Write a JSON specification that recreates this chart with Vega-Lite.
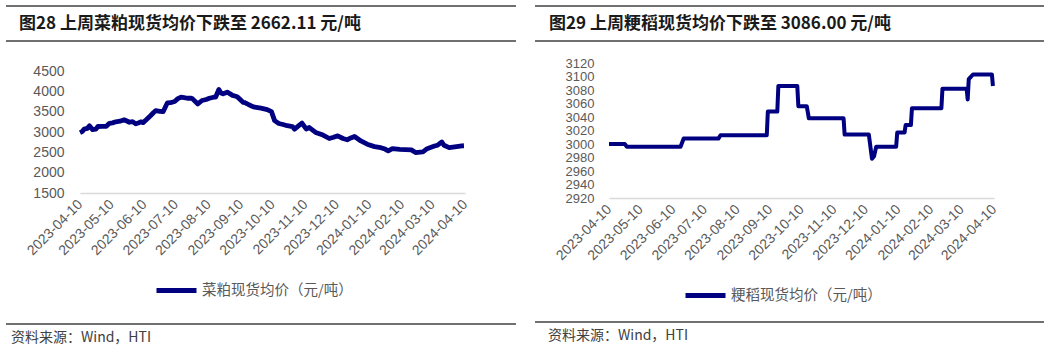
{
  "$schema": "https://vega.github.io/schema/vega-lite/v6.json",
  "padding": {"left": 5, "top": 5, "right": 0, "bottom": 0},
  "background": "white",
  "config": {
    "view": {"stroke": null},
    "font": "Noto Sans CJK SC",
    "axis": {"grid": false, "ticks": false, "labelColor": "#595959", "labelFont": "Liberation Sans", "labelFontSize": 14, "domainColor": "#d9d9d9", "domainWidth": 1.5, "title": null},
    "legend": {"orient": "bottom", "title": null, "symbolType": "stroke", "symbolSize": 1600, "symbolStrokeWidth": 5, "labelFontSize": 14.5, "labelColor": "#595959", "labelFont": "Noto Sans CJK SC", "offset": 10, "labelOffset": 3, "labelLimit": 300,
               "layout": {"bottom": {"anchor": "middle"}}}
  },
  "spacing": 17,
  "resolve": {"scale": {"color": "independent"}, "legend": {"color": "independent"}},
  "hconcat": [
    {
      "spacing": 22,
      "resolve": {"scale": {"color": "independent"}, "legend": {"color": "independent"}},
      "vconcat": [
        {
          "width": 510, "height": 35,
          "data": {"values": [{"title": "图28 上周菜粕现货均价下跌至 2662.11 元/吨"}]},
          "layer": [
            {"mark": {"type": "rule", "color": "#404040", "strokeWidth": 1.5}, "encoding": {"y": {"datum": 1, "type": "quantitative", "scale": {"domain": [0, 1]}, "axis": null}}},
            {"mark": {"type": "rule", "color": "#404040", "strokeWidth": 1.5}, "encoding": {"y": {"datum": 0, "type": "quantitative", "axis": null}}},
            {"mark": {"type": "text", "align": "left", "baseline": "middle", "fontSize": 17, "fontWeight": "bold", "color": "#1a1a1a", "dx": 13},
             "encoding": {"text": {"field": "title"}, "x": {"datum": 0, "type": "quantitative", "scale": {"domain": [0, 1]}, "axis": null}, "y": {"datum": 0.5, "type": "quantitative", "axis": null}}}
          ]
        },
        {
          "width": 495, "height": 122,
          "data": {"values": [
            {"date": "2023/04/10", "price": 2985}, {"date": "2023/04/12", "price": 3010}, {"date": "2023/04/14", "price": 3070}, {"date": "2023/04/17", "price": 3090},
            {"date": "2023/04/19", "price": 3150}, {"date": "2023/04/22", "price": 3060}, {"date": "2023/04/25", "price": 3070}, {"date": "2023/04/27", "price": 3135},
            {"date": "2023/05/01", "price": 3140}, {"date": "2023/05/05", "price": 3140}, {"date": "2023/05/08", "price": 3215}, {"date": "2023/05/11", "price": 3225},
            {"date": "2023/05/14", "price": 3250}, {"date": "2023/05/18", "price": 3265}, {"date": "2023/05/22", "price": 3300}, {"date": "2023/05/25", "price": 3265},
            {"date": "2023/05/27", "price": 3240}, {"date": "2023/05/30", "price": 3255}, {"date": "2023/06/02", "price": 3200}, {"date": "2023/06/05", "price": 3230},
            {"date": "2023/06/07", "price": 3250}, {"date": "2023/06/09", "price": 3230}, {"date": "2023/06/12", "price": 3300}, {"date": "2023/06/16", "price": 3400},
            {"date": "2023/06/19", "price": 3480}, {"date": "2023/06/21", "price": 3525}, {"date": "2023/06/25", "price": 3510}, {"date": "2023/06/28", "price": 3500},
            {"date": "2023/07/02", "price": 3715}, {"date": "2023/07/05", "price": 3720}, {"date": "2023/07/09", "price": 3750}, {"date": "2023/07/12", "price": 3820},
            {"date": "2023/07/15", "price": 3855}, {"date": "2023/07/18", "price": 3845}, {"date": "2023/07/21", "price": 3830}, {"date": "2023/07/24", "price": 3835},
            {"date": "2023/07/26", "price": 3815}, {"date": "2023/07/31", "price": 3690}, {"date": "2023/08/04", "price": 3775}, {"date": "2023/08/08", "price": 3800},
            {"date": "2023/08/11", "price": 3830}, {"date": "2023/08/15", "price": 3855}, {"date": "2023/08/17", "price": 3860}, {"date": "2023/08/20", "price": 4045},
            {"date": "2023/08/22", "price": 3960}, {"date": "2023/08/24", "price": 3940}, {"date": "2023/08/28", "price": 3980}, {"date": "2023/09/02", "price": 3900},
            {"date": "2023/09/05", "price": 3880}, {"date": "2023/09/07", "price": 3855}, {"date": "2023/09/12", "price": 3730}, {"date": "2023/09/14", "price": 3720},
            {"date": "2023/09/16", "price": 3690}, {"date": "2023/09/20", "price": 3640}, {"date": "2023/09/23", "price": 3610}, {"date": "2023/09/29", "price": 3585},
            {"date": "2023/10/05", "price": 3550}, {"date": "2023/10/09", "price": 3500}, {"date": "2023/10/12", "price": 3280}, {"date": "2023/10/16", "price": 3210},
            {"date": "2023/10/20", "price": 3185}, {"date": "2023/10/24", "price": 3155}, {"date": "2023/10/29", "price": 3135}, {"date": "2023/10/31", "price": 3070},
            {"date": "2023/11/04", "price": 3155}, {"date": "2023/11/07", "price": 3220}, {"date": "2023/11/11", "price": 3075}, {"date": "2023/11/14", "price": 3110},
            {"date": "2023/11/20", "price": 2990}, {"date": "2023/11/27", "price": 2925}, {"date": "2023/12/03", "price": 2840}, {"date": "2023/12/07", "price": 2870},
            {"date": "2023/12/11", "price": 2905}, {"date": "2023/12/16", "price": 2840}, {"date": "2023/12/20", "price": 2810}, {"date": "2023/12/24", "price": 2860},
            {"date": "2023/12/27", "price": 2890}, {"date": "2024/01/02", "price": 2780}, {"date": "2024/01/08", "price": 2700}, {"date": "2024/01/15", "price": 2640},
            {"date": "2024/01/21", "price": 2615}, {"date": "2024/01/25", "price": 2580}, {"date": "2024/01/28", "price": 2535}, {"date": "2024/02/01", "price": 2590},
            {"date": "2024/02/08", "price": 2575}, {"date": "2024/02/19", "price": 2560}, {"date": "2024/02/23", "price": 2495}, {"date": "2024/03/01", "price": 2510},
            {"date": "2024/03/05", "price": 2590}, {"date": "2024/03/12", "price": 2655}, {"date": "2024/03/15", "price": 2675}, {"date": "2024/03/19", "price": 2755},
            {"date": "2024/03/21", "price": 2675}, {"date": "2024/03/26", "price": 2615}, {"date": "2024/04/02", "price": 2640}, {"date": "2024/04/07", "price": 2660},
            {"date": "2024/04/09", "price": 2662}
          ]},
          "mark": {"type": "line", "strokeWidth": 4.8, "strokeJoin": "round"},
          "encoding": {
            "x": {"field": "date", "type": "temporal",
                  "scale": {"domain": [{"year": 2023, "month": 4, "date": 10}, {"year": 2024, "month": 4, "date": 10}], "range": [74, 459]},
                  "axis": {"format": "%Y-%m-%d", "labelAngle": -45, "labelAlign": "right", "labelBaseline": "middle", "labelPadding": 9, "labelOverlap": false,
                           "values": [{"year": 2023, "month": 4, "date": 10}, {"year": 2023, "month": 5, "date": 10}, {"year": 2023, "month": 6, "date": 10}, {"year": 2023, "month": 7, "date": 10}, {"year": 2023, "month": 8, "date": 10}, {"year": 2023, "month": 9, "date": 10}, {"year": 2023, "month": 10, "date": 10}, {"year": 2023, "month": 11, "date": 10}, {"year": 2023, "month": 12, "date": 10}, {"year": 2024, "month": 1, "date": 10}, {"year": 2024, "month": 2, "date": 10}, {"year": 2024, "month": 3, "date": 10}, {"year": 2024, "month": 4, "date": 10}]}},
            "y": {"field": "price", "type": "quantitative", "scale": {"domain": [1500, 4500], "nice": false, "zero": false},
                  "axis": {"values": [1500, 2000, 2500, 3000, 3500, 4000, 4500], "format": "d", "domain": false, "labelPadding": 16, "offset": -74, "labelOverlap": false}},
            "color": {"datum": "菜粕现货均价（元/吨）", "scale": {"range": ["#000080"]}}
          }
        },
        {
          "width": 510, "height": 28,
          "data": {"values": [{"source": "资料来源：Wind，HTI"}]},
          "layer": [
            {"mark": {"type": "rule", "color": "#404040", "strokeWidth": 1.5}, "encoding": {"y": {"datum": 1, "type": "quantitative", "scale": {"domain": [0, 1]}, "axis": null}}},
            {"mark": {"type": "text", "align": "left", "baseline": "middle", "fontSize": 14, "color": "#404040", "dx": 5},
             "encoding": {"text": {"field": "source"}, "x": {"datum": 0, "type": "quantitative", "scale": {"domain": [0, 1]}, "axis": null}, "y": {"datum": 0.5, "type": "quantitative", "axis": null}}}
          ]
        }
      ]
    },
    {
      "spacing": 15,
      "resolve": {"scale": {"color": "independent"}, "legend": {"color": "independent"}},
      "vconcat": [
        {
          "width": 509, "height": 35,
          "data": {"values": [{"title": "图29 上周粳稻现货均价下跌至 3086.00 元/吨"}]},
          "layer": [
            {"mark": {"type": "rule", "color": "#404040", "strokeWidth": 1.5}, "encoding": {"y": {"datum": 1, "type": "quantitative", "scale": {"domain": [0, 1]}, "axis": null}}},
            {"mark": {"type": "rule", "color": "#404040", "strokeWidth": 1.5}, "encoding": {"y": {"datum": 0, "type": "quantitative", "axis": null}}},
            {"mark": {"type": "text", "align": "left", "baseline": "middle", "fontSize": 17, "fontWeight": "bold", "color": "#1a1a1a", "dx": 14},
             "encoding": {"text": {"field": "title"}, "x": {"datum": 0, "type": "quantitative", "scale": {"domain": [0, 1]}, "axis": null}, "y": {"datum": 0.5, "type": "quantitative", "axis": null}}}
          ]
        },
        {
          "width": 495, "height": 135,
          "data": {"values": [
            {"date": "2023/04/10", "price": 3000}, {"date": "2023/04/25", "price": 3000}, {"date": "2023/04/27", "price": 2996}, {"date": "2023/06/17", "price": 2996},
            {"date": "2023/06/20", "price": 3008}, {"date": "2023/07/23", "price": 3008}, {"date": "2023/07/25", "price": 3013}, {"date": "2023/09/07", "price": 3013},
            {"date": "2023/09/08", "price": 3048}, {"date": "2023/09/17", "price": 3048}, {"date": "2023/09/18", "price": 3086}, {"date": "2023/10/06", "price": 3086},
            {"date": "2023/10/07", "price": 3056}, {"date": "2023/10/15", "price": 3056}, {"date": "2023/10/17", "price": 3038}, {"date": "2023/11/19", "price": 3038},
            {"date": "2023/11/20", "price": 3014}, {"date": "2023/12/13", "price": 3014}, {"date": "2023/12/16", "price": 2978}, {"date": "2023/12/18", "price": 2982},
            {"date": "2023/12/20", "price": 2996}, {"date": "2024/01/08", "price": 2996}, {"date": "2024/01/09", "price": 3017}, {"date": "2024/01/16", "price": 3017},
            {"date": "2024/01/17", "price": 3028}, {"date": "2024/01/22", "price": 3028}, {"date": "2024/01/23", "price": 3053}, {"date": "2024/02/20", "price": 3053},
            {"date": "2024/02/21", "price": 3082}, {"date": "2024/03/15", "price": 3082}, {"date": "2024/03/16", "price": 3066}, {"date": "2024/03/17", "price": 3096},
            {"date": "2024/03/21", "price": 3103}, {"date": "2024/04/08", "price": 3103}, {"date": "2024/04/09", "price": 3086}
          ]},
          "mark": {"type": "line", "strokeWidth": 4, "strokeJoin": "round"},
          "encoding": {
            "x": {"field": "date", "type": "temporal",
                  "scale": {"domain": [{"year": 2023, "month": 4, "date": 10}, {"year": 2024, "month": 4, "date": 10}], "range": [74, 459]},
                  "axis": {"format": "%Y-%m-%d", "labelAngle": -45, "labelAlign": "right", "labelBaseline": "middle", "labelPadding": 9, "labelOverlap": false,
                           "values": [{"year": 2023, "month": 4, "date": 10}, {"year": 2023, "month": 5, "date": 10}, {"year": 2023, "month": 6, "date": 10}, {"year": 2023, "month": 7, "date": 10}, {"year": 2023, "month": 8, "date": 10}, {"year": 2023, "month": 9, "date": 10}, {"year": 2023, "month": 10, "date": 10}, {"year": 2023, "month": 11, "date": 10}, {"year": 2023, "month": 12, "date": 10}, {"year": 2024, "month": 1, "date": 10}, {"year": 2024, "month": 2, "date": 10}, {"year": 2024, "month": 3, "date": 10}, {"year": 2024, "month": 4, "date": 10}]}},
            "y": {"field": "price", "type": "quantitative", "scale": {"domain": [2920, 3120], "nice": false, "zero": false},
                  "axis": {"values": [2920, 2940, 2960, 2980, 3000, 3020, 3040, 3060, 3080, 3100, 3120], "format": "d", "domain": false, "labelPadding": 15, "offset": -74, "labelOverlap": false, "labelFontSize": 13}},
            "color": {"datum": "粳稻现货均价（元/吨）", "scale": {"range": ["#000080"]}}
          }
        },
        {
          "width": 509, "height": 28,
          "data": {"values": [{"source": "资料来源：Wind，HTI"}]},
          "layer": [
            {"mark": {"type": "rule", "color": "#404040", "strokeWidth": 1.5}, "encoding": {"y": {"datum": 1, "type": "quantitative", "scale": {"domain": [0, 1]}, "axis": null}}},
            {"mark": {"type": "text", "align": "left", "baseline": "middle", "fontSize": 14, "color": "#404040", "dx": 13},
             "encoding": {"text": {"field": "source"}, "x": {"datum": 0, "type": "quantitative", "scale": {"domain": [0, 1]}, "axis": null}, "y": {"datum": 0.5, "type": "quantitative", "axis": null}}}
          ]
        }
      ]
    }
  ]
}
